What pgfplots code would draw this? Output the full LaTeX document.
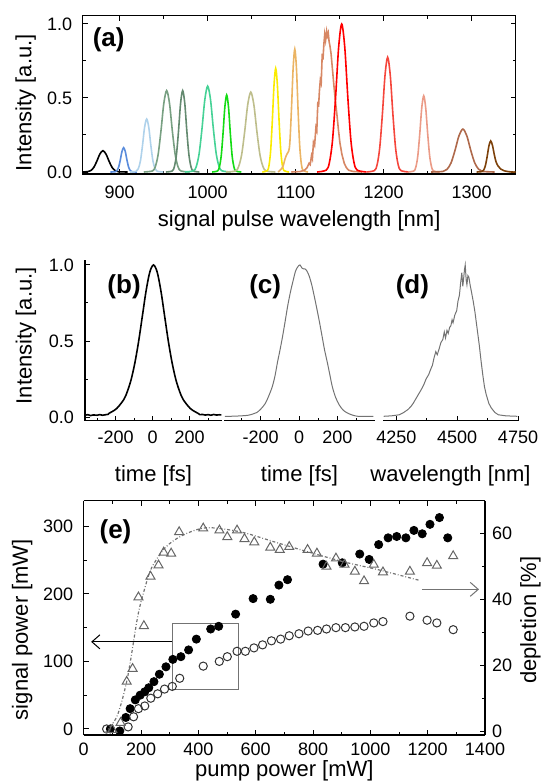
\documentclass[border=0pt]{standalone}
\usepackage{fontspec}
\setmainfont{Liberation Sans}
\usepackage{pgfplots}
\pgfplotsset{compat=1.18}
\usetikzlibrary{arrows.meta}
\definecolor{c1}{RGB}{0,0,0}
\definecolor{c2}{RGB}{90,140,220}
\definecolor{c3}{RGB}{175,210,235}
\definecolor{c4}{RGB}{120,160,130}
\definecolor{c5}{RGB}{100,138,112}
\definecolor{c6}{RGB}{70,210,150}
\definecolor{c7}{RGB}{20,220,20}
\definecolor{c8}{RGB}{190,190,140}
\definecolor{c9}{RGB}{250,235,0}
\definecolor{c10}{RGB}{235,180,100}
\definecolor{c11}{RGB}{215,135,100}
\definecolor{c12}{RGB}{255,0,0}
\definecolor{c13}{RGB}{245,70,60}
\definecolor{c14}{RGB}{235,155,135}
\definecolor{c15}{RGB}{175,105,75}
\definecolor{c16}{RGB}{125,65,10}
\pgfplotsset{
  every axis/.append style={
    scale only axis,
    anchor=south west,
    /pgf/number format/assume math mode=true,
    /pgf/number format/1000 sep={},
    tick label style={font=\fontsize{9}{10}\selectfont},
    label style={font=\fontsize{11}{13}\selectfont},
    axis line style={line width=0.6pt},
    tick style={line width=0.5pt, black},
    major tick length=2.5pt, minor tick length=1.5pt,
    tick align=inside,
    scaled ticks=false,
  },
  every non boxed x axis/.append style={x axis line style={-}, xtick align=inside},
  every non boxed y axis/.append style={y axis line style={-}, ytick align=inside},
}
\begin{document}
\begin{tikzpicture}
\path[use as bounding box] (0,0) rectangle (270.5pt,-390.5pt);
% ---------------- panel (a)
\begin{axis}[at={(41.35pt,-87pt)}, width=216.5pt, height=79.15pt,
  xmin=858, xmax=1350, ymin=-0.0135, ymax=1.056,
  xtick={900,1000,1100,1200,1300}, minor x tick num=1,
  ytick={0,0.5,1}, minor y tick num=1,
  yticklabel style={xshift=-1.8pt,/pgf/number format/.cd,fixed,fixed zerofill,precision=1},
  xticklabel style={yshift=-2.3pt},
  xlabel={signal pulse wavelength [nm]}, ylabel={Intensity [a.u.]},
  xlabel style={at={(axis description cs:0.5,-0.297)},anchor=center},
  ylabel style={at={(axis description cs:-0.1316,0.45)},anchor=center},
  every axis plot/.append style={line width=0.8pt},
]
\addplot[c1,smooth] coordinates {(858,0.001)(863.5,.002)(867,.009)(870.5,.030)(874,.072)(877.5,.121)(881,.144)(884.5,.121)(888,.072)(891.5,.030)(895,.009)(898.5,.002)(909,0)};
\addplot[c2,smooth] coordinates {(889.5,0)(895.1,.002)(897,.010)(898.9,.034)(900.75,.082)(902.6,.138)(904.5,.164)(906.4,.138)(908.25,.082)(910.1,.034)(912,.010)(913.9,.002)(919.5,0)};
\addplot[c3,smooth] coordinates {(911.7,0)(918.8,.005)(921.2,.022)(923.6,.075)(925.95,.179)(928.3,.301)(930.7,.358)(933.1,.301)(935.45,.179)(937.8,.075)(940.2,.022)(942.6,.005)(949.7,0)};
\addplot[c4,smooth] coordinates {(927.4,0)(937.2,.007)(940.4,.034)(943.65,.116)(946.9,.275)(950.15,.463)(953.4,.55)(956.65,.463)(959.9,.275)(963.15,.116)(966.4,.034)(969.65,.007)(979.4,0)};
\addplot[c5,smooth] coordinates {(952.6,0)(959.7,.007)(962.1,.034)(964.5,.116)(966.85,.275)(969.2,.463)(971.6,.55)(974,.463)(976.35,.275)(978.7,.116)(981.1,.034)(983.5,.007)(990.6,0)};
\addplot[c6,smooth] coordinates {(974,0)(983.75,.008)(987,.036)(990.25,.122)(993.5,.29)(996.75,.488)(1000,.58)(1003.25,.488)(1006.5,.29)(1009.75,.122)(1013,.036)(1016.25,.008)(1026,0)};
\addplot[c7,smooth] coordinates {(1005,0)(1011.2,.007)(1013.3,.033)(1015.4,.109)(1017.45,.26)(1019.5,.437)(1021.6,.52)(1023.7,.437)(1025.75,.26)(1027.8,.109)(1029.9,.033)(1032,.007)(1038.2,0)};
\addplot[c8,smooth] coordinates {(1021,0)(1031.5,.007)(1035,.034)(1038.5,.113)(1042,.27)(1045.5,.454)(1049,.54)(1052.5,.454)(1056,.27)(1059.5,.113)(1063,.034)(1066.5,.007)(1077,0)};
\addplot[c9,smooth] coordinates {(1062.1,0)(1067.8,.009)(1069.7,.044)(1071.6,.147)(1073.5,.35)(1075.4,.589)(1077.3,.70)(1079.2,.589)(1081.1,.35)(1083,.147)(1084.9,.044)(1086.8,.009)(1092.5,0)};
\addplot[c10,smooth] coordinates {(1080,0)(1085,.03)(1088,.09)(1090,.12)(1092,.14)(1093.4,.20)(1095.25,.43)(1097.1,.70)(1099,.83)(1100.9,.698)(1102.75,.415)(1104.6,.174)(1106.5,.052)(1108.4,.011)(1114,0)};
\addplot[c11] coordinates {(1095,0)(1105,0.003)(1110.2,.012)(1113,.03)(1115.2,.059)(1116.5,.05)(1118,.11)(1119,.09)(1120.2,.20)(1121.5,.18)(1123,.30)(1124,.28)(1125.2,.475)(1126,.44)(1127,.55)(1128,.62)(1129,.60)(1130.2,.80)(1131,.76)(1132,.86)(1133,.93)(1134,.89)(1135.2,.95)(1136,.92)(1137,.94)(1138,.88)(1139,.85)(1140.2,.80)(1142,.68)(1143.5,.58)(1145.2,.475)(1147,.38)(1148.5,.29)(1150.2,.20)(1152.5,.12)(1155.2,.059)(1157.5,.03)(1160.2,.012)(1165,.004)(1175.2,0)};
\addplot[c12,smooth] coordinates {(1124.3,0)(1134.8,.013)(1138.3,.063)(1141.8,.21)(1145.3,.5)(1148.8,.841)(1152.3,1)(1155.8,.841)(1159.3,.5)(1162.8,.21)(1166.3,.063)(1169.8,.013)(1180.3,0)};
\addplot[c13,smooth] coordinates {(1180.5,0)(1189.5,.010)(1192.5,.048)(1195.5,.163)(1198.5,.388)(1201.5,.652)(1204.5,.775)(1207.5,.652)(1210.5,.388)(1213.5,.163)(1216.5,.048)(1219.5,.010)(1228.5,0)};
\addplot[c14,smooth] coordinates {(1227.5,0)(1234.25,.007)(1236.5,.032)(1238.75,.108)(1241,.258)(1243.25,.433)(1245.5,.515)(1247.75,.433)(1250,.258)(1252.25,.108)(1254.5,.032)(1256.75,.007)(1263.5,0)};
\addplot[c15,smooth] coordinates {(1254,0)(1267.5,.004)(1272,.018)(1276.5,.061)(1281,.145)(1285.5,.244)(1290,.29)(1294.5,.244)(1299,.145)(1303.5,.061)(1308,.018)(1312.5,.004)(1326,0)};
\addplot[c16,smooth] coordinates {(1305.6,0)(1311.6,.003)(1313.6,.013)(1315.6,.044)(1317.6,.105)(1319.6,.177)(1321.6,.21)(1323.6,.18)(1325.6,.12)(1327.6,.07)(1330,.04)(1333,.02)(1337,.008)(1345,0)(1350,0)};
\node[font=\bfseries\fontsize{13}{15}\selectfont] at (axis cs:887.5,0.89) {(a)};
\end{axis}
% ---------------- panel (b)
\begin{axis}[at={(42.5pt,-210.35pt)}, width=68.5pt, height=80.15pt,
  xmin=-365, xmax=375, ymin=-0.024, ymax=1.03,
  axis x line*=bottom, axis y line*=left,
  xtick={-200,0,200}, minor xtick={-300,-100,100,300},
  ytick={0,0.5,1}, minor ytick={0.25,0.75},
  yticklabel style={xshift=-2pt,/pgf/number format/.cd,fixed,fixed zerofill,precision=1},
  xticklabel style={yshift=-1.4pt},
  xlabel={time [fs]}, ylabel={Intensity [a.u.]},
  xlabel style={at={(axis description cs:0.5,-0.343)},anchor=center},
  ylabel style={at={(axis description cs:-0.432,0.53)},anchor=center},
]
\addplot[black,line width=0.8pt] coordinates {(-365,0.012)(-350,0.016)(-335,0.01)(-320,0.014)(-300,0.012)(-285,0.016)(-270,0.012)(-255,0.015)(-240,0.018)(-235,0.025)};
\addplot[black,line width=0.8pt,smooth] coordinates {(-235,0.025)(-195,0.055)(-155,0.116)(-135,0.172)(-115,0.25)(-95,0.36)(-75,0.5)(-55,0.665)(-35,0.83)(-15,0.953)(5,1.0)(25,0.953)(45,0.83)(65,0.665)(85,0.5)(105,0.36)(125,0.25)(145,0.172)(165,0.116)(205,0.055)(245,0.025)};
\addplot[black,line width=0.8pt] coordinates {(245,0.025)(255,0.016)(270,0.017)(285,0.013)(300,0.016)(315,0.012)(330,0.017)(345,0.013)(360,0.015)(372,0.014)};
\node[font=\bfseries\fontsize{13}{15}\selectfont] at (axis cs:-154,0.855) {(b)};
\end{axis}
% ---------------- panel (c)
\begin{axis}[at={(112pt,-210.35pt)}, width=75.5pt, height=80.15pt,
  xmin=-390, xmax=395, ymin=-0.024, ymax=1.03,
  axis x line*=bottom, hide y axis,
  xtick={-200,0,200}, minor xtick={-300,-100,100,300},
  xticklabel style={yshift=-1.4pt},
  xlabel={time [fs]},
  xlabel style={at={(axis description cs:0.5,-0.343)},anchor=center},
]
\addplot[black!55,line width=0.5pt,smooth] coordinates {(-385,0.005)(-357,0.005)(-300,0.008)(-264,0.012)(-240,0.02)(-219,0.03)(-197,0.055)(-175,0.09)(-157,0.14)(-139,0.2)(-125,0.27)(-112,0.36)(-99,0.44)(-85.5,0.53)(-72,0.63)(-59,0.73)(-45,0.82)(-32,0.89)(-18,0.96)(-5,0.99)(5,1.0)(15,0.98)(22,0.975)(30,0.975)(39,0.965)(52,0.93)(66,0.87)(80,0.79)(93,0.71)(107,0.62)(120,0.53)(133,0.44)(147,0.36)(160,0.28)(173,0.2)(190,0.13)(209,0.08)(230,0.045)(254,0.025)(280,0.012)(306,0.005)(340,0.004)(387,0.005)};
\node[font=\bfseries\fontsize{13}{15}\selectfont] at (axis cs:-176,0.855) {(c)};
\end{axis}
% ---------------- panel (d)
\begin{axis}[at={(191.5pt,-210.35pt)}, width=67.5pt, height=80.15pt,
  xmin=4195, xmax=4750, ymin=-0.024, ymax=1.03,
  axis x line*=bottom, hide y axis,
  xtick={4250,4500,4750}, minor xtick={4375,4625},
  xticklabel style={yshift=-1.4pt},
  xlabel={wavelength [nm]},
  xlabel style={at={(axis description cs:0.5,-0.343)},anchor=center},
]
\addplot[black!55,line width=0.5pt] coordinates {(4198,0.005)(4230,0.008)(4262,0.015)(4280,0.03)(4298,0.05)(4310,0.07)(4319,0.09)(4330,0.12)(4341,0.15)(4352,0.18)(4362,0.21)(4372,0.25)(4383,0.28)(4390,0.31)(4398,0.34)(4405,0.39)(4412,0.43)(4418,0.41)(4426,0.45)(4433,0.49)(4441,0.51)(4447,0.56)(4452,0.52)(4458,0.57)(4463,0.55)(4469,0.59)(4474,0.6)(4479,0.64)(4483,0.62)(4490,0.67)(4498,0.70)(4503,0.76)(4509,0.80)(4514,0.88)(4519,0.95)(4523,0.86)(4527,0.92)(4530,0.97)(4533,1.0)(4537,0.9)(4540,0.87)(4544,0.93)(4548,0.92)(4553,0.87)(4559,0.82)(4566,0.76)(4573,0.69)(4582,0.58)(4591,0.47)(4598,0.37)(4605,0.28)(4612,0.2)(4619,0.15)(4630,0.09)(4640,0.06)(4655,0.03)(4669,0.015)(4700,0.008)(4747,0.005)};
\node[font=\bfseries\fontsize{13}{15}\selectfont] at (axis cs:4316,0.855) {(d)};
\end{axis}
% ---------------- panel (e), left axis
\begin{axis}[at={(41.85pt,-367.5pt)}, width=200.65pt, height=117.15pt,
  xmin=0, xmax=1400, ymin=-9, ymax=338,
  axis y line*=left,
  xtick={0,200,...,1400}, minor x tick num=1,
  ytick={0,100,200,300}, minor y tick num=1,
  xticklabel style={yshift=-0.6pt},
  yticklabel style={xshift=-1.8pt},
  xlabel={pump power [mW]}, ylabel={signal power [mW]},
  xlabel style={at={(axis description cs:0.5,-0.154)},anchor=center},
  ylabel style={at={(axis description cs:-0.153,0.45)},anchor=center},
]
\addplot[only marks, mark=*, mark size=2.05pt, mark options={fill=black,draw=black}] coordinates {(93,0)(126,-3)(147,17)(162,30)(180,43)(197,50)(213,55)(227,61)(245,70)(264,81)(287,92)(311,103)(339,107)(366,117)(393,133)(443,148)(471,152)(530,170)(591,193)(651,192)(681,213)(711,221)(835,244)(902,246)(963,259)(996,251)(1029,273)(1062,283)(1092,285)(1124,283)(1152,294)(1181,289)(1208,303)(1241,313)(1270,283)};
\addplot[only marks, mark=o, mark size=2.05pt, mark options={draw=black!80,line width=0.5pt}] coordinates {(80,0)(155,3)(174,18)(191,30)(213,34)(234,45.5)(258,52)(282,59)(309,63)(335,75)(417,93)(473,100)(501,107)(535,115)(564,115)(594,120)(624,124.5)(655,130.5)(687,133)(717,138)(751,141)(783,145)(816,146)(847,148)(880,150)(913,150)(946,151)(978,152)(1012,157)(1044,159)(1138,167)(1198,161)(1232,157)(1289,147)};
\draw[black!55, line width=0.4pt] (axis cs:311,58.7) rectangle (axis cs:541,157);
\draw[black, line width=0.5pt, -{Straight Barb[length=4pt,width=7pt]}] (axis cs:309,129) -- (axis cs:26,129);
\draw[black!55, line width=0.5pt, -{Straight Barb[length=4pt,width=7pt]}] (axis cs:1180,206.7) -- (axis cs:1379,206.7);
\node[font=\bfseries\fontsize{13}{15}\selectfont] at (axis cs:111,292.6) {(e)};
\end{axis}
% ---------------- panel (e), right axis
\begin{axis}[at={(41.85pt,-367.5pt)}, width=200.65pt, height=117.15pt,
  xmin=0, xmax=1400, ymin=-1.1, ymax=70,
  axis y line*=right, hide x axis,
  ytick={0,20,40,60}, minor y tick num=1,
  ylabel={depletion [\%]},
  ylabel style={at={(axis description cs:1.113,0.49)},anchor=center},
]
\addplot[black!55, line width=0.6pt, smooth, dash pattern=on 1.5pt off 1pt on 0.4pt off 1pt] coordinates {(74.5,-0.5)(116.6,4.7)(152.6,16.2)(188.7,35)(212.7,43.3)(236.7,49.6)(284.8,55.8)(345,59.5)(429,61.8)(549,60.5)(669,57.4)(789.5,54.3)(909.7,51.4)(1030,49)(1168,45.9)};
\addplot[only marks, mark=triangle, mark size=2.6pt, mark options={draw=black!60,line width=0.5pt}] coordinates {(100,0.5)(128.6,2.6)(150,15.1)(170.6,19)(191,40.7)(210,32)(233,47)(261,50.4)(279,54.3)(305,54)(333,60.5)(417,61.6)(473.5,61)(501,59)(535,61)(561,58.4)(595,57.4)(651,55.8)(684,55.1)(717,56)(781,55.1)(813.6,54)(847,50)(880,52.5)(910,50.6)(946,48.5)(978,45.6)(1012,50.6)(1044,48.3)(1138,48.5)(1198,51.1)(1232,50.3)(1289,53.2)};
\end{axis}
\end{tikzpicture}
\end{document}
